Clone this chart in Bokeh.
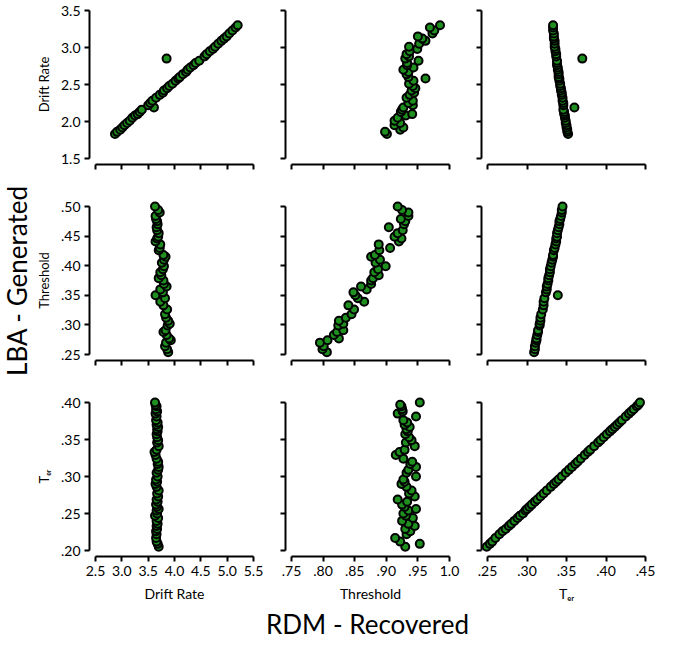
import math
from bokeh.plotting import figure
from bokeh.layouts import row, column
from bokeh.models import Range1d, FixedTicker, Label, CustomJSTickFormatter
from bokeh.embed import file_html
from bokeh.resources import INLINE

# ---------------- data ----------------
# Row 1: LBA generated drift rate vs RDM recovered parameters
r1_lba_drift = [1.83, 1.86, 1.89, 1.92, 1.95, 1.98, 2.01, 2.05, 2.08, 2.10,
                2.13, 2.16, 2.19, 2.22, 2.25, 2.28, 2.32, 2.36, 2.39, 2.42,
                2.45, 2.48, 2.51, 2.55, 2.58, 2.60, 2.64, 2.67, 2.70, 2.73,
                2.76, 2.79, 2.82, 2.85, 2.88, 2.91, 2.95, 2.98, 3.01, 3.05,
                3.09, 3.12, 3.15, 3.19, 3.23, 3.27, 3.30]
r1_rdm_drift = [2.87, 2.91, 2.97, 3.01, 3.05, 3.10, 3.15, 3.20, 3.25, 3.30,
                3.34, 3.38, 3.61, 3.50, 3.54, 3.58, 3.65, 3.72, 3.78, 3.80,
                3.86, 3.90, 3.96, 4.02, 4.07, 4.10, 4.16, 4.22, 4.25, 4.30,
                4.36, 4.40, 4.47, 3.85, 4.57, 4.61, 4.67, 4.73, 4.77, 4.83,
                4.89, 4.94, 4.99, 5.04, 5.10, 5.16, 5.20]
r1_rdm_thr = [0.901, 0.898, 0.922, 0.927, 0.913, 0.922, 0.913, 0.918, 0.931, 0.941,
              0.923, 0.925, 0.927, 0.942, 0.935, 0.942, 0.932, 0.937, 0.944, 0.940,
              0.946, 0.942, 0.936, 0.943, 0.962, 0.935, 0.932, 0.935, 0.927, 0.943,
              0.933, 0.933, 0.951, 0.930, 0.936, 0.932, 0.937, 0.949, 0.936, 0.952,
              0.962, 0.957, 0.950, 0.973, 0.976, 0.969, 0.985]
r1_rdm_ter = [0.352, 0.351, 0.351, 0.350, 0.350, 0.349, 0.349, 0.348, 0.348, 0.347,
              0.347, 0.346, 0.360, 0.346, 0.346, 0.345, 0.345, 0.344, 0.344, 0.343,
              0.343, 0.342, 0.342, 0.341, 0.341, 0.340, 0.340, 0.340, 0.339, 0.339,
              0.338, 0.338, 0.338, 0.370, 0.337, 0.337, 0.336, 0.336, 0.335, 0.335,
              0.335, 0.334, 0.334, 0.334, 0.333, 0.333, 0.333]

# Row 2: LBA generated threshold vs RDM recovered parameters
r2_lba_thr = [0.254, 0.259, 0.264, 0.270, 0.274, 0.277, 0.283, 0.288, 0.291, 0.299,
              0.302, 0.307, 0.312, 0.318, 0.326, 0.333, 0.339, 0.345, 0.350, 0.355,
              0.360, 0.365, 0.369, 0.375, 0.379, 0.384, 0.389, 0.394, 0.399, 0.405,
              0.410, 0.415, 0.418, 0.426, 0.430, 0.436, 0.441, 0.446, 0.449, 0.455,
              0.460, 0.465, 0.470, 0.475, 0.479, 0.484, 0.490, 0.494, 0.500]
r2_rdm_drift = [3.88, 3.86, 3.82, 3.84, 3.93, 3.90, 3.85, 3.79, 3.83, 3.87,
                3.91, 3.88, 3.84, 3.82, 3.86, 3.79, 3.73, 3.82, 3.64, 3.78,
                3.73, 3.85, 3.80, 3.79, 3.70, 3.75, 3.73, 3.78, 3.80, 3.76,
                3.80, 3.83, 3.79, 3.70, 3.72, 3.73, 3.64, 3.67, 3.69, 3.70,
                3.67, 3.66, 3.68, 3.67, 3.65, 3.64, 3.72, 3.69, 3.63]
r2_rdm_thr = [0.806, 0.799, 0.801, 0.795, 0.807, 0.825, 0.817, 0.822, 0.832, 0.824,
              0.832, 0.825, 0.836, 0.845, 0.849, 0.840, 0.865, 0.855, 0.851, 0.848,
              0.869, 0.860, 0.876, 0.876, 0.879, 0.888, 0.881, 0.887, 0.899, 0.883,
              0.890, 0.876, 0.882, 0.889, 0.906, 0.888, 0.920, 0.924, 0.913, 0.918,
              0.926, 0.904, 0.928, 0.930, 0.923, 0.935, 0.935, 0.925, 0.918]
r2_rdm_ter = [0.309, 0.310, 0.310, 0.311, 0.312, 0.312, 0.313, 0.314, 0.314, 0.316,
              0.316, 0.317, 0.317, 0.318, 0.320, 0.321, 0.321, 0.322, 0.339, 0.324,
              0.325, 0.325, 0.326, 0.327, 0.327, 0.328, 0.329, 0.329, 0.330, 0.331,
              0.332, 0.333, 0.333, 0.334, 0.335, 0.336, 0.337, 0.337, 0.338, 0.338,
              0.339, 0.340, 0.341, 0.341, 0.342, 0.343, 0.344, 0.344, 0.345]

# Row 3: LBA generated Ter vs RDM recovered parameters
r3_lba_ter = [0.205, 0.209, 0.212, 0.217, 0.222, 0.226, 0.229, 0.233, 0.236, 0.240,
              0.244, 0.247, 0.250, 0.254, 0.256, 0.259, 0.262, 0.266, 0.269, 0.273,
              0.277, 0.281, 0.286, 0.290, 0.293, 0.296, 0.300, 0.305, 0.309, 0.313,
              0.317, 0.320, 0.324, 0.329, 0.333, 0.336, 0.341, 0.346, 0.349, 0.353,
              0.357, 0.361, 0.364, 0.367, 0.370, 0.373, 0.376, 0.381, 0.385, 0.388,
              0.391, 0.395, 0.397, 0.400]
r3_rdm_drift = [3.70, 3.68, 3.66, 3.65, 3.66, 3.65, 3.67, 3.66, 3.68, 3.66,
                3.69, 3.63, 3.67, 3.66, 3.70, 3.67, 3.65, 3.68, 3.66, 3.69,
                3.67, 3.70, 3.66, 3.64, 3.67, 3.65, 3.68, 3.66, 3.69, 3.70,
                3.68, 3.69, 3.66, 3.64, 3.62, 3.66, 3.70, 3.67, 3.69, 3.67,
                3.66, 3.68, 3.67, 3.69, 3.66, 3.68, 3.65, 3.66, 3.64, 3.67,
                3.65, 3.66, 3.64, 3.63]
r3_rdm_thr = [0.930, 0.953, 0.922, 0.914, 0.932, 0.938, 0.930, 0.945, 0.935, 0.925,
              0.942, 0.931, 0.927, 0.935, 0.947, 0.929, 0.925, 0.933, 0.918, 0.945,
              0.936, 0.940, 0.932, 0.924, 0.929, 0.927, 0.947, 0.932, 0.935, 0.947,
              0.938, 0.941, 0.927, 0.915, 0.921, 0.929, 0.945, 0.931, 0.940, 0.936,
              0.930, 0.934, 0.932, 0.937, 0.929, 0.933, 0.927, 0.947, 0.918, 0.926,
              0.925, 0.924, 0.922, 0.953]
r3_rdm_ter = [0.249, 0.253, 0.256, 0.260, 0.265, 0.269, 0.273, 0.277, 0.280, 0.284,
              0.288, 0.291, 0.295, 0.298, 0.300, 0.303, 0.306, 0.310, 0.313, 0.317,
              0.321, 0.325, 0.330, 0.334, 0.337, 0.340, 0.344, 0.349, 0.353, 0.357,
              0.361, 0.364, 0.368, 0.373, 0.377, 0.380, 0.385, 0.390, 0.393, 0.397,
              0.401, 0.405, 0.408, 0.411, 0.414, 0.417, 0.420, 0.425, 0.429, 0.432,
              0.435, 0.439, 0.441, 0.443]

# Ticks and tick labels
x_drift_ticks = [2.5, 3.0, 3.5, 4.0, 4.5, 5.0, 5.5]
x_drift_labels = ["2.5", "3.0", "3.5", "4.0", "4.5", "5.0", "5.5"]
x_thr_ticks = [0.75, 0.8, 0.85, 0.9, 0.95, 1.0]
x_thr_labels = [".75", ".80", ".85", ".90", ".95", "1.0"]
x_ter_ticks = [0.25, 0.3, 0.35, 0.4, 0.45]
x_ter_labels = [".25", ".30", ".35", ".40", ".45"]
y_drift_ticks = [1.5, 2.0, 2.5, 3.0, 3.5]
y_drift_labels = ["1.5", "2.0", "2.5", "3.0", "3.5"]
y_thr_ticks = [0.25, 0.3, 0.35, 0.4, 0.45, 0.5]
y_thr_labels = [".25", ".30", ".35", ".40", ".45", ".50"]
y_ter_ticks = [0.2, 0.25, 0.3, 0.35, 0.4]
y_ter_labels = [".20", ".25", ".30", ".35", ".40"]

var_names = ["Drift Rate", "Threshold", "T\u2091\u1d63"]
x_title = "RDM - Recovered"
y_title = "LBA - Generated"

# ---------------- styling ----------------
FONT = "Lato"
GREEN = "#1f8f1f"
FW, FH = 170, 160
PAD = 6
LEFT_W = 32

x_ticks = [x_drift_ticks, x_thr_ticks, x_ter_ticks]
x_labels = [x_drift_labels, x_thr_labels, x_ter_labels]
y_ticks = [y_drift_ticks, y_thr_ticks, y_ter_ticks]
y_labels = [y_drift_labels, y_thr_labels, y_ter_labels]
rows_lba = [r1_lba_drift, r2_lba_thr, r3_lba_ter]
rows_rdm = [[r1_rdm_drift, r1_rdm_thr, r1_rdm_ter],
            [r2_rdm_drift, r2_rdm_thr, r2_rdm_ter],
            [r3_rdm_drift, r3_rdm_thr, r3_rdm_ter]]

border_left = [54, 20, 20]
border_right = [6, 6, 14]
border_top = [4, 18, 18]
border_bottom = [18, 18, 18]


def style_axis(ax, ticks, labels, show):
    ax.ticker = FixedTicker(ticks=ticks, minor_ticks=[])
    ax.bounds = (ticks[0], ticks[-1])
    ax.axis_line_width = 2
    ax.axis_line_color = "black"
    ax.major_tick_line_width = 2
    ax.major_tick_line_color = "black"
    ax.major_tick_in = 0
    ax.major_tick_out = 5
    ax.minor_tick_line_color = None
    if show:
        ax.major_label_overrides = dict(zip(ticks, labels))
        ax.major_label_text_font = FONT
        ax.major_label_text_font_size = "14px"
        ax.major_label_text_color = "black"
        ax.major_label_standoff = 4
    else:
        ax.formatter = CustomJSTickFormatter(code="return ''")
        ax.major_label_text_color = None
        ax.major_label_standoff = 0
    ax.axis_label_text_font = FONT
    ax.axis_label_text_font_style = "normal"
    ax.axis_label_text_color = "black"


def make_panel(i, j):
    xt = x_ticks[j]
    yt = y_ticks[i]
    px = (xt[-1] - xt[0]) * PAD / (FW - 2 * PAD)
    py = (yt[-1] - yt[0]) * PAD / (FH - 2 * PAD)
    p = figure(frame_width=FW, frame_height=FH,
               x_range=Range1d(xt[0] - px, xt[-1] + px),
               y_range=Range1d(yt[0] - py, yt[-1] + py),
               toolbar_location=None, output_backend="svg",
               min_border_left=border_left[j], min_border_right=border_right[j],
               min_border_top=border_top[i], min_border_bottom=border_bottom[i],
               outline_line_color=None, background_fill_color="white",
               border_fill_color="white")
    p.grid.visible = False
    style_axis(p.xaxis[0], xt, x_labels[j], i == 2)
    style_axis(p.yaxis[0], yt, y_labels[i], j == 0)
    if j == 0:
        p.yaxis.axis_label = var_names[i]
        p.yaxis.axis_label_text_font_size = "13px"
        p.yaxis.axis_label_standoff = 6
    if i == 2:
        p.xaxis.axis_label = var_names[j]
        p.xaxis.axis_label_text_font_size = "14px"
        p.xaxis.axis_label_standoff = 6
    p.scatter(rows_rdm[i][j], rows_lba[i], size=8, fill_color=GREEN,
              line_color="black", line_width=2)
    return p


grid_rows = [row(*[make_panel(i, j) for j in range(3)]) for i in range(3)]

# Left big label (centred on the middle row)
mid_center = border_top[0] + FH + border_bottom[0] + border_top[1] + FH / 2
left = figure(width=LEFT_W, height=int(2 * mid_center),
              x_range=Range1d(0, 1), y_range=Range1d(0, 1),
              x_axis_type=None, y_axis_type=None, toolbar_location=None,
              output_backend="svg", min_border=0, outline_line_color=None)
left.grid.visible = False
left.add_layout(Label(x=0.5, y=0.5, text=y_title, angle=math.pi / 2,
                      text_align="center", text_baseline="middle",
                      text_font=FONT, text_font_size="26px", text_color="black"))

# Bottom big label (centred on the middle column)
total_w = LEFT_W + sum(border_left) + sum(border_right) + 3 * FW
mid_x = LEFT_W + border_left[0] + FW + border_right[0] + border_left[1] + FW / 2
bottom = figure(width=total_w, height=38,
                x_range=Range1d(0, total_w), y_range=Range1d(0, 1),
                x_axis_type=None, y_axis_type=None, toolbar_location=None,
                output_backend="svg", min_border=0, outline_line_color=None)
bottom.grid.visible = False
bottom.add_layout(Label(x=mid_x, y=0.5, text=x_title,
                        text_align="center", text_baseline="middle",
                        text_font=FONT, text_font_size="26px", text_color="black"))

layout = column(row(left, column(*grid_rows)), bottom)

open("out.html", "w").write(file_html(layout, INLINE))
